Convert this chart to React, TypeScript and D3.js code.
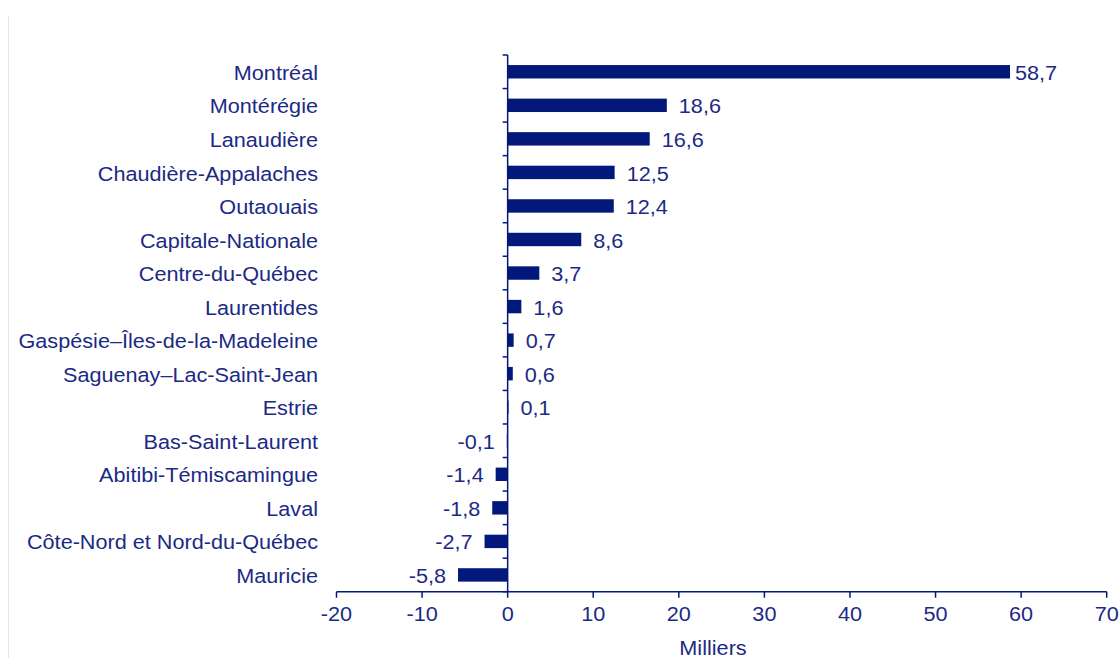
import React from 'react'
import * as d3 from 'd3'

const regions = [
  'Montréal', 'Montérégie', 'Lanaudière', 'Chaudière-Appalaches', 'Outaouais',
  'Capitale-Nationale', 'Centre-du-Québec', 'Laurentides', 'Gaspésie–Îles-de-la-Madeleine',
  'Saguenay–Lac-Saint-Jean', 'Estrie', 'Bas-Saint-Laurent', 'Abitibi-Témiscamingue',
  'Laval', 'Côte-Nord et Nord-du-Québec', 'Mauricie',
]
const values = [58.7, 18.6, 16.6, 12.5, 12.4, 8.6, 3.7, 1.6, 0.7, 0.6, 0.1, -0.1, -1.4, -1.8, -2.7, -5.8]
const xTicks = [-20, -10, 0, 10, 20, 30, 40, 50, 60, 70]

const BAR = '#02187a'
const TXT = '#1b2a84'
const FONT = 'Liberation Sans, Arial, sans-serif'
const SX = 1.11 // the source text is slightly stretched horizontally

const fmt = (v: number) => v.toFixed(1).replace('.', ',')

export default function App() {
  const x = d3.scaleLinear().domain([-20, 70]).range([336.5, 1106.7])
  const y = d3.scaleBand<string>().domain(regions).range([55, 591.7]).paddingInner(0.6).paddingOuter(0.3)
  const top = 55
  const bottom = 591.7
  const x0 = x(0)
  const vmax = d3.max(values) as number
  const bounds = d3.range(regions.length + 1).map(i => top + i * (bottom - top) / regions.length)

  const T = (props: { x: number, y: number, anchor: string, children: string }) => (
    <text transform={`translate(${props.x},${props.y}) scale(${SX},1)`} textAnchor={props.anchor}
      dominantBaseline="central" fontSize={19.5} fill={TXT} fontFamily={FONT}>
      {props.children}
    </text>
  )

  return (
    <svg width={1120} height={658} style={{ position: 'absolute', left: 0, top: 0 }}>
      <rect width={1120} height={658} fill="#fff" />
      <line x1={8.5} x2={8.5} y1={16} y2={658} stroke="#e4e6ee" strokeWidth={1} />

      {/* bars and labels */}
      {regions.map((r, i) => {
        const v = values[i]
        const yc = (y(r) as number) + y.bandwidth() / 2
        // the longest bar's label sits tight against it, the others a bit further out
        const gap = v === vmax ? 5 : 12
        return (
          <g key={r}>
            <rect x={Math.min(x(v), x0)} y={y(r)} width={Math.abs(x(v) - x0)} height={y.bandwidth()} fill={BAR} />
            <T x={v >= 0 ? x(v) + gap : x(v) - gap} y={yc + 1} anchor={v >= 0 ? 'start' : 'end'}>{fmt(v)}</T>
            <T x={318} y={yc + 1} anchor="end">{r}</T>
          </g>
        )
      })}

      {/* y axis */}
      <line x1={x0} x2={x0} y1={top} y2={bottom} stroke={BAR} strokeWidth={1.5} />
      {bounds.map((b, i) => (
        <line key={i} x1={x0 - 5} x2={x0} y1={b} y2={b} stroke={BAR} strokeWidth={1.5} />
      ))}

      {/* x axis */}
      <line x1={x(-20)} x2={x(70)} y1={bottom} y2={bottom} stroke={BAR} strokeWidth={1.5} />
      {xTicks.map(t => (
        <g key={t}>
          <line x1={x(t)} x2={x(t)} y1={bottom} y2={bottom + 6} stroke={BAR} strokeWidth={1.5} />
          <T x={x(t)} y={614} anchor="middle">{String(t)}</T>
        </g>
      ))}
      <T x={713} y={648} anchor="middle">Milliers</T>
    </svg>
  )
}
